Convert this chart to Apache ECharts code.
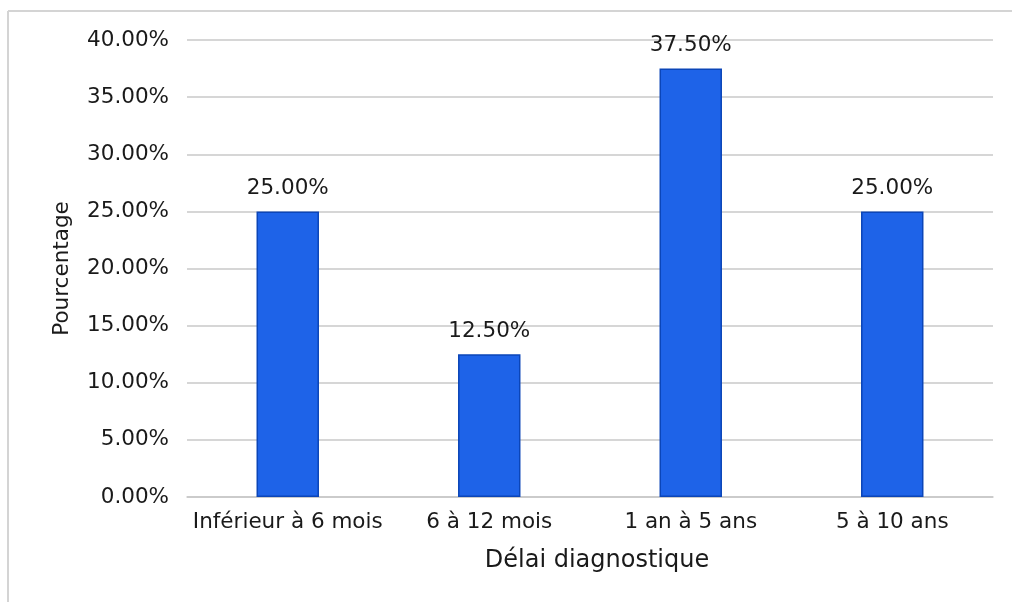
<!DOCTYPE html>
<html>
<head>
<meta charset="utf-8">
<script src="https://cdn.jsdelivr.net/npm/echarts@6/dist/echarts.min.js"></script>
<style>
  html, body { margin: 0; padding: 0; background: #fff; }
  #chart { width: 1012px; height: 602px; }
</style>
</head>
<body>
<div id="chart"></div>
<script>
// Délai diagnostique – répartition en pourcentage
const categories = ['Inférieur à 6 mois', '6 à 12 mois', '1 an à 5 ans', '5 à 10 ans'];
const percentages = [25.0, 12.5, 37.5, 25.0];
const yTicks = { min: 0, max: 40, interval: 5 };

const FONT = '"DejaVu Sans", Verdana, sans-serif';
const TEXT = '#1a1a1a';
const SIZE = 21.5;

const chart = echarts.init(document.getElementById('chart'));
chart.setOption({
  backgroundColor: '#fff',
  animation: false,
  graphic: [
    // thin frame along the top and left edges
    { type: 'line', shape: { x1: 8, y1: 11, x2: 1012, y2: 11 }, style: { stroke: '#d4d4d4', lineWidth: 2 } },
    { type: 'line', shape: { x1: 8, y1: 11, x2: 8, y2: 602 }, style: { stroke: '#d4d4d4', lineWidth: 2 } }
  ],
  grid: { left: 187, right: 19, top: 40, bottom: 105 },
  xAxis: {
    type: 'category',
    data: categories,
    name: 'Délai diagnostique',
    nameLocation: 'middle',
    nameGap: 52,
    nameTextStyle: { fontFamily: FONT, fontSize: 24, color: TEXT, padding: [0, 0, 0, 14] },
    axisLine: { show: true, lineStyle: { color: '#c8c8c8', width: 1.5 } },
    axisTick: { show: false },
    axisLabel: { interval: 0, fontFamily: FONT, fontSize: SIZE, color: TEXT, margin: 14 }
  },
  yAxis: {
    type: 'value',
    min: yTicks.min,
    max: yTicks.max,
    interval: yTicks.interval,
    name: 'Pourcentage',
    nameLocation: 'middle',
    nameGap: 114,
    nameTextStyle: { fontFamily: FONT, fontSize: SIZE, color: TEXT },
    axisLine: { show: false },
    axisTick: { show: false },
    splitLine: { lineStyle: { color: '#c8c8c8', width: 1.5 } },
    axisLabel: {
      fontFamily: FONT, fontSize: SIZE, color: TEXT, margin: 18,
      formatter: v => v.toFixed(2) + '%'
    }
  },
  series: [{
    type: 'bar',
    data: percentages,
    barWidth: '31%',
    itemStyle: { color: '#1e63e8', borderColor: '#0b45b8', borderWidth: 1.5 },
    label: {
      show: true,
      position: 'top',
      distance: 12,
      fontFamily: FONT, fontSize: SIZE, color: TEXT,
      formatter: p => p.value.toFixed(2) + '%'
    }
  }]
});
</script>
</body>
</html>
